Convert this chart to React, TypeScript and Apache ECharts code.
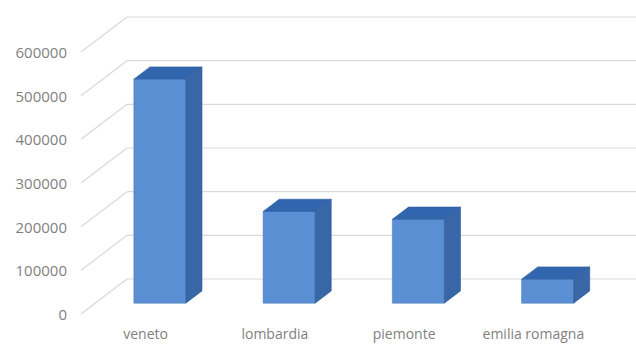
import React, { useEffect, useRef } from "react";
import * as echarts from "echarts";

const categories = ["veneto", "lombardia", "piemonte", "emilia romagna"];
const values = [513000, 210000, 192000, 55000];
const gridTicks = [0, 100000, 200000, 300000, 400000, 500000, 600000];

const DEPTH = { dx: 46, dy: -35 };
const FRONT = 0.31;
const BACK = 0.66;
const HALF_W = 26;

export default function App() {
  const ref = useRef<HTMLDivElement>(null);
  useEffect(() => {
    if (!ref.current) return;
    const chart = echarts.init(ref.current, null, { renderer: "svg" });
    const fx = DEPTH.dx * FRONT, fy = DEPTH.dy * FRONT;
    const bx = DEPTH.dx * BACK, by = DEPTH.dy * BACK;
    chart.setOption({
      animation: false,
      backgroundColor: "#ffffff",
      grid: { left: 81, top: 52, width: 517, height: 262 },
      xAxis: {
        type: "category",
        data: categories,
        axisLine: { show: false },
        axisTick: { show: false },
        axisLabel: {
          color: "#7f7f7f",
          fontFamily: "Open Sans",
          fontSize: 14,
          margin: 12,
          interval: 0,
        },
      },
      yAxis: {
        type: "value",
        min: 0,
        max: 600000,
        interval: 100000,
        axisLine: { show: false },
        axisTick: { show: false },
        splitLine: { show: false },
        axisLabel: {
          color: "#7f7f7f",
          fontFamily: "Open Sans",
          fontSize: 15,
          margin: 14,
          formatter: (v: number) => String(v),
        },
      },
      series: [
        {
          type: "custom",
          z: 1,
          silent: true,
          data: gridTicks.map((t) => [0, t]),
          renderItem: (params: any, api: any) => {
            const v = api.value(1);
            const p = api.coord([0, v]);
            const x0 = params.coordSys.x;
            const x1 = x0 + DEPTH.dx;
            const y1 = p[1] + DEPTH.dy;
            const style = { stroke: "#d9d9d9", lineWidth: 1.2 };
            return {
              type: "group",
              children: [
                { type: "line", shape: { x1: x0, y1: p[1], x2: x1, y2: y1 }, style },
                { type: "line", shape: { x1: x1, y1: y1, x2: api.getWidth(), y2: y1 }, style },
              ],
            };
          },
        },
        {
          type: "custom",
          z: 2,
          data: values.map((v, i) => [i, v]),
          renderItem: (params: any, api: any) => {
            const i = api.value(0);
            const v = api.value(1);
            const b = api.coord([i, 0]);
            const t = api.coord([i, v]);
            const L = b[0] - HALF_W, R = b[0] + HALF_W;
            const fb = [[L + fx, b[1] + fy], [R + fx, b[1] + fy]];
            const ft = [[L + fx, t[1] + fy], [R + fx, t[1] + fy]];
            const bt = [[L + bx, t[1] + by], [R + bx, t[1] + by]];
            const bb = [R + bx, b[1] + by];
            return {
              type: "group",
              children: [
                {
                  type: "polygon",
                  shape: { points: [fb[0], fb[1], ft[1], ft[0]] },
                  style: { fill: "#5b8fd3", stroke: "#4a7fc2", lineWidth: 0.6 },
                },
                {
                  type: "polygon",
                  shape: { points: [ft[0], ft[1], bt[1], bt[0]] },
                  style: { fill: "#3166ae", stroke: "#2d5ea2", lineWidth: 0.6 },
                },
                {
                  type: "polygon",
                  shape: { points: [ft[1], fb[1], bb, bt[1]] },
                  style: { fill: "#3866a6", stroke: "#2f5c98", lineWidth: 0.6 },
                },
              ],
            };
          },
        },
      ],
    });
    return () => chart.dispose();
  }, []);
  return (
    <div
      ref={ref}
      style={{ position: "fixed", left: 0, top: 0, width: 636, height: 344 }}
    />
  );
}
